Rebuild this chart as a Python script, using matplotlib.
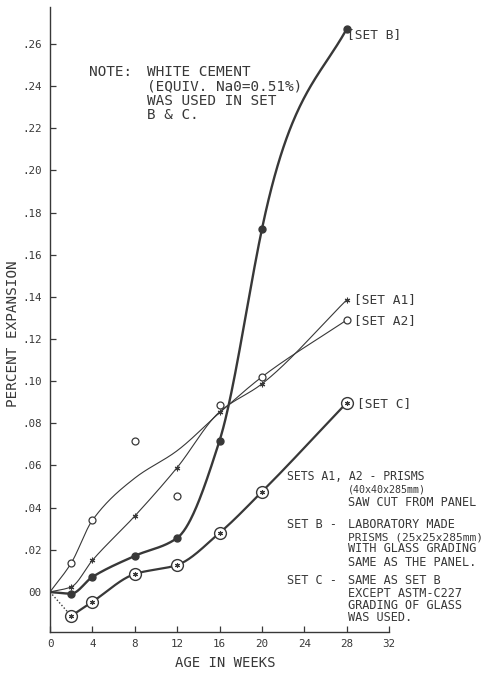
import numpy as np
import matplotlib
matplotlib.use("Agg")
import matplotlib.pyplot as plt

W, H = 486, 673
INK = "#383838"
plt.rcParams["font.family"] = ["DejaVu Sans Mono", "DejaVu Sans"]

# weeks at which each set was measured
weeks = [0, 2, 4, 8, 12, 16, 20, 28]

# percent expansion
set_a1 = [0.0, 0.0024, 0.015, 0.036, 0.059, 0.0854, 0.0987, 0.1385]
set_a2 = [0.0, 0.0137, 0.034, 0.0717, 0.0455, 0.0887, 0.102, 0.129]
set_a2_curve = [0.0, 0.0137, 0.034, 0.054, 0.067, 0.085, 0.102, 0.129]   # faired line (skips the outliers)
set_b = [0.0, -0.0008, 0.0071, 0.0171, 0.0256, 0.0717, 0.172, 0.267]
set_c = [0.0, -0.0114, -0.0047, 0.0085, 0.0128, 0.028, 0.0475, 0.0897]

xticks = [0, 4, 8, 12, 16, 20, 24, 28, 32]
yticks = [0.0, 0.02, 0.04, 0.06, 0.08, 0.10, 0.12, 0.14, 0.16, 0.18, 0.20, 0.22, 0.24, 0.26]
ytick_labels = ["00", ".02", ".04", ".06", ".08", ".10", ".12", ".14", ".16",
                ".18", ".20", ".22", ".24", ".26"]


def pchip(x, y, xs, slopes=None):
    # monotone cubic so the hand-faired curves don't overshoot
    x = np.asarray(x, float)
    y = np.asarray(y, float)
    h = np.diff(x)
    d = np.diff(y) / h
    m = np.zeros_like(y)
    m[0], m[-1] = d[0], d[-1]
    for k in range(1, len(x) - 1):
        if d[k - 1] * d[k] > 0:
            w1 = 2 * h[k] + h[k - 1]
            w2 = h[k] + 2 * h[k - 1]
            m[k] = (w1 + w2) / (w1 / d[k - 1] + w2 / d[k])
    if slopes:
        for k, v in slopes.items():
            m[k] = v
    i = np.clip(np.searchsorted(x, xs) - 1, 0, len(x) - 2)
    t = (xs - x[i]) / h[i]
    h00 = 2 * t**3 - 3 * t**2 + 1
    h10 = t**3 - 2 * t**2 + t
    h01 = -2 * t**3 + 3 * t**2
    h11 = t**3 - t**2
    return h00 * y[i] + h10 * h[i] * m[i] + h01 * y[i + 1] + h11 * h[i] * m[i + 1]


fig = plt.figure(figsize=(W / 100, H / 100), dpi=100)
ax = fig.add_axes([50 / W, 1 - 632 / H, (389 - 50) / W, (632 - 7) / H])

xs = np.linspace(0, 28, 400)

# SET A1 - thin line, asterisks
ax.plot(xs, pchip(weeks, set_a1, xs), color=INK, lw=0.8)
ax.plot(weeks[1:], set_a1[1:], ls="none", marker=(6, 2, 0), ms=4, mew=0.8, color=INK)

# SET A2 - thin faired line, open circles
ax.plot(xs, pchip(weeks, set_a2_curve, xs), color=INK, lw=0.8)
ax.plot(weeks[1:], set_a2[1:], ls="none", marker="o", ms=5, mfc="white", mec=INK, mew=0.9)

# SET B - heavy line, filled circles (steeper through week 20, flatter at the end)
ax.plot(xs, pchip(weeks, set_b, xs, slopes={6: 0.024, 7: 0.009}), color=INK, lw=1.7)
ax.plot(weeks[1:], set_b[1:], ls="none", marker="o", ms=5, color=INK)

# SET C - heavy line, circled asterisks, dotted start
xc = np.linspace(2, 28, 300)
ax.plot(xc, pchip(weeks[1:], set_c[1:], xc), color=INK, lw=1.6)
ax.plot(weeks[:2], set_c[:2], color=INK, lw=1.0, ls=(0, (1, 1.5)))
ax.plot(weeks[1:], set_c[1:], ls="none", marker="o", ms=8.5, mfc="white", mec=INK, mew=1.0)
ax.plot(weeks[1:], set_c[1:], ls="none", marker=(6, 2, 0), ms=3.5, mew=0.8, color=INK)

ax.set_xlim(0, 32)
ax.set_ylim(-0.019, 0.2775)
ax.set_xticks(xticks)
ax.set_yticks(yticks)
ax.set_yticklabels(ytick_labels)
for s in ("top", "right"):
    ax.spines[s].set_visible(False)
for s in ("left", "bottom"):
    ax.spines[s].set_color(INK)
    ax.spines[s].set_linewidth(1.0)
ax.tick_params(direction="in", length=4, width=0.9, color=INK, labelcolor=INK, labelsize=7.8)
ax.tick_params(axis="y", pad=6)
ax.tick_params(axis="x", pad=5)


def ftext(x, y, s, size=8.6, **kw):
    fig.text(x / W, 1 - y / H, s, color=INK, va="center", ha="left", fontsize=size, **kw)


# axis titles
fig.text(225 / W, 1 - 663 / H, "AGE IN WEEKS", color=INK, fontsize=10, ha="center", va="center")
fig.text(13 / W, 1 - 334 / H, "PERCENT EXPANSION", color=INK, fontsize=10.3,
         ha="center", va="center", rotation=90)

# series labels
ftext(347, 35, "[SET B]", size=9.3)
ftext(354, 300, "[SET A1]", size=9.3)
ftext(354, 321, "[SET A2]", size=9.3)
ftext(357, 404, "[SET C]", size=9.3)

# note
ftext(89, 72, "NOTE:", size=10.4)
for i, line in enumerate(["WHITE CEMENT", "(EQUIV. Na0=0.51%)", "WAS USED IN SET", "B & C."]):
    ftext(147, 72 + i * 14.4, line, size=10.4)

# specimen descriptions
ftext(287, 477, "SETS A1, A2 - PRISMS", size=8.3)
ftext(348, 489, "(40x40x285mm)", size=7.2)
ftext(348, 502, "SAW CUT FROM PANEL")
ftext(287, 524, "SET B -")
ftext(348, 524, "LABORATORY MADE")
ftext(348, 537, "PRISMS (25x25x285mm)", size=8.0)
ftext(348, 549, "WITH GLASS GRADING")
ftext(348, 562, "SAME AS THE PANEL.")
ftext(287, 581, "SET C -")
for i, line in enumerate(["SAME AS SET B", "EXCEPT ASTM-C227", "GRADING OF GLASS", "WAS USED."]):
    ftext(348, 581 + i * 12.2, line)

fig.savefig("out.png", dpi=100, facecolor="white")
